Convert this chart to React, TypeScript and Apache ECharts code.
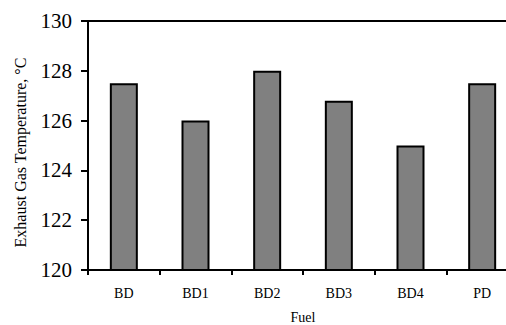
import React, { useEffect, useRef } from "react";
import * as echarts from "echarts";

const categories = ["BD", "BD1", "BD2", "BD3", "BD4", "PD"];
const temperatures = [127.5, 126, 128, 126.8, 125, 127.5];
const yAxisTitle = "Exhaust Gas Temperature, °C";
const xAxisTitle = "Fuel";

export default function App() {
  const ref = useRef<HTMLDivElement>(null);
  useEffect(() => {
    document.body.style.margin = "0";
    const chart = echarts.init(ref.current!, null, { renderer: "svg" });
    const font = "Liberation Serif";
    chart.setOption({
      animation: false,
      backgroundColor: "#ffffff",
      textStyle: { fontFamily: font },
      grid: {
        left: 88,
        top: 21,
        width: 430,
        height: 249,
        containLabel: false,
        outerBoundsMode: "none",
        show: true,
        borderColor: "#000",
        borderWidth: 2,
        backgroundColor: "transparent",
      },
      xAxis: {
        type: "category",
        data: categories,
        boundaryGap: true,
        name: xAxisTitle,
        nameLocation: "middle",
        nameGap: 40,
        nameTextStyle: { fontFamily: font, fontSize: 14, color: "#000" },
        axisLine: { show: true, lineStyle: { color: "#000", width: 2 } },
        axisTick: { show: true, inside: false, alignWithLabel: false, interval: 0, length: 5, lineStyle: { color: "#000", width: 2 } },
        axisLabel: { fontFamily: font, fontSize: 14, color: "#000", margin: 16 },
        splitLine: { show: false },
      },
      yAxis: {
        type: "value",
        min: 120,
        max: 130,
        interval: 2,
        name: yAxisTitle,
        nameLocation: "middle",
        nameGap: 60,
        nameRotate: 90,
        nameTextStyle: { fontFamily: font, fontSize: 16, color: "#000", padding: [0, 14, 0, 0] },
        axisLine: { show: true, lineStyle: { color: "#000", width: 2 } },
        axisTick: { show: true, inside: false, length: 7, lineStyle: { color: "#000", width: 2 } },
        axisLabel: { fontFamily: font, fontSize: 21, color: "#000", margin: 16 },
        splitLine: { show: false },
      },
      series: [
        {
          type: "bar",
          data: temperatures,
          barWidth: 28,
          itemStyle: { color: "#808080", borderColor: "#000", borderWidth: 2 },
        },
      ],
    });
    return () => chart.dispose();
  }, []);
  return <div ref={ref} style={{ width: 506, height: 325 }} />;
}
